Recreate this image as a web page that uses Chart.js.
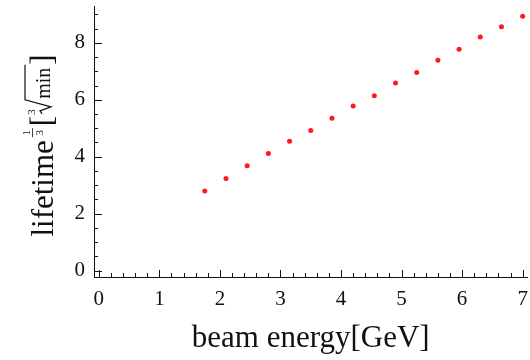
<!DOCTYPE html>
<html>
<head>
<meta charset="utf-8">
<script src="https://cdn.jsdelivr.net/npm/chart.js@4"></script>
<style>
  html, body { margin: 0; padding: 0; background: #fff; }
  #wrap { width: 530px; height: 360px; position: relative; }
</style>
</head>
<body>
<div id="wrap"><canvas id="chart"></canvas></div>
<script>
// beam energy [GeV]
const energy = [1.75, 2.1, 2.45, 2.8, 3.15, 3.5, 3.85, 4.2, 4.55, 4.9, 5.25, 5.6, 5.95, 6.3, 6.65, 7.0];
// lifetime^(1/3) [min^(1/3)]
const lifetime = [2.80, 3.24, 3.68, 4.11, 4.54, 4.92, 5.35, 5.78, 6.14, 6.59, 6.96, 7.39, 7.77, 8.20, 8.56, 8.93];

const xTicks = [0, 1, 2, 3, 4, 5, 6, 7];
const yTicks = [0, 2, 4, 6, 8];

const serif = "'Liberation Serif', 'DejaVu Serif', serif";

// Mathematica style ticks, pointing into the plot
const innerTicks = {
  id: 'innerTicks',
  afterDraw(chart) {
    const ctx = chart.ctx;
    const area = chart.chartArea;
    const xs = chart.scales.x;
    const ys = chart.scales.y;
    ctx.save();
    ctx.strokeStyle = '#111';
    ctx.lineWidth = 1;
    ctx.beginPath();
    for (let i = 0; i <= 35; i++) {
      const px = Math.round(xs.getPixelForValue(i / 5)) + 0.5;
      const len = i % 5 === 0 ? 7 : 4;
      ctx.moveTo(px, area.bottom);
      ctx.lineTo(px, area.bottom - len);
    }
    for (let i = 0; i <= 18; i++) {
      const py = Math.round(ys.getPixelForValue(i / 2)) + 0.5;
      const len = i % 4 === 0 ? 8 : 4;
      ctx.moveTo(area.left, py);
      ctx.lineTo(area.left + len, py);
    }
    ctx.stroke();
    ctx.restore();
  }
};

// y title: lifetime^(1/3) [cube root of min]
const yTitle = {
  id: 'yTitle',
  afterDraw(chart) {
    const ctx = chart.ctx;
    const area = chart.chartArea;
    ctx.save();
    ctx.fillStyle = '#111';
    ctx.strokeStyle = '#111';
    ctx.textBaseline = 'alphabetic';
    ctx.textAlign = 'left';

    const big = '31px ' + serif;
    const mid = '20px ' + serif;
    const small = '11px ' + serif;

    ctx.font = big;
    const wLife = ctx.measureText('lifetime').width;
    const wBr1 = ctx.measureText('[').width;
    const wBr2 = ctx.measureText(']').width;
    ctx.font = mid;
    const wMin = ctx.measureText('min').width;
    const wRad = 17;
    const wFrac = 9;
    const total = wLife + 3 + wFrac + 2 + wBr1 + wRad + wMin + 3 + wBr2;

    const cy = (area.top + area.bottom) / 2 + 4;
    ctx.translate(area.left - 41, cy + total / 2);
    ctx.rotate(-Math.PI / 2);

    let x = 0;
    ctx.font = big;
    ctx.fillText('lifetime', x, 0);
    x += wLife + 3;

    // exponent 1/3
    ctx.font = small;
    ctx.textAlign = 'center';
    ctx.fillText('1', x + wFrac / 2, -23);
    ctx.fillText('3', x + wFrac / 2, -10);
    ctx.lineWidth = 0.8;
    ctx.beginPath();
    ctx.moveTo(x, -20.5);
    ctx.lineTo(x + wFrac, -20.5);
    ctx.stroke();
    ctx.textAlign = 'left';
    x += wFrac + 2;

    ctx.font = big;
    ctx.fillText('[', x, -1);
    x += wBr1;

    // radical with index 3
    ctx.font = small;
    ctx.fillText('3', x + 1, -18);
    ctx.lineWidth = 1.2;
    ctx.beginPath();
    ctx.moveTo(x + 2, -11);
    ctx.lineTo(x + 5, -13);
    ctx.lineTo(x + 9, -2);
    ctx.lineTo(x + wRad - 1, -28);
    ctx.lineTo(x + wRad + wMin + 3, -28);
    ctx.stroke();
    x += wRad;

    ctx.font = mid;
    ctx.fillText('min', x, -3);
    x += wMin + 3;

    ctx.font = big;
    ctx.fillText(']', x, -1);
    ctx.restore();
  }
};

new Chart(document.getElementById('chart'), {
  type: 'scatter',
  data: {
    datasets: [{
      data: energy.map((e, i) => ({ x: e, y: lifetime[i] })),
      backgroundColor: '#ff1a1a',
      borderWidth: 0,
      pointRadius: 2.5,
      pointHoverRadius: 2.5
    }]
  },
  options: {
    responsive: true,
    maintainAspectRatio: false,
    animation: false,
    layout: { padding: { top: 6, right: 0, left: 0, bottom: 0 } },
    plugins: {
      legend: { display: false },
      tooltip: { enabled: false }
    },
    scales: {
      x: {
        type: 'linear',
        min: -0.08,
        max: 7.08,
        afterFit: (s) => {
          s.height = 83;
          s.paddingLeft = 0;
          s.paddingRight = 0;
        },
        afterBuildTicks: (s) => { s.ticks = xTicks.map(v => ({ value: v })); },
        grid: { display: false, drawTicks: false },
        border: { display: true, color: '#111', width: 1 },
        ticks: {
          padding: 10,
          color: '#111',
          font: { family: serif, size: 21 },
          callback: (v) => v
        },
        title: {
          display: true,
          text: 'beam energy[GeV]',
          color: '#111',
          font: { family: serif, size: 31 },
          padding: { top: 0, bottom: 3 }
        }
      },
      y: {
        type: 'linear',
        min: -0.22,
        max: 9.29,
        afterFit: (s) => {
          s.width = 94;
          s.paddingTop = 0;
          s.paddingBottom = 0;
        },
        afterBuildTicks: (s) => { s.ticks = yTicks.map(v => ({ value: v })); },
        grid: { display: false, drawTicks: false },
        border: { display: true, color: '#111', width: 1 },
        ticks: {
          padding: 9,
          color: '#111',
          font: { family: serif, size: 21 },
          callback: (v) => v
        },
        title: { display: false }
      }
    }
  },
  plugins: [innerTicks, yTitle]
});
</script>
</body>
</html>
